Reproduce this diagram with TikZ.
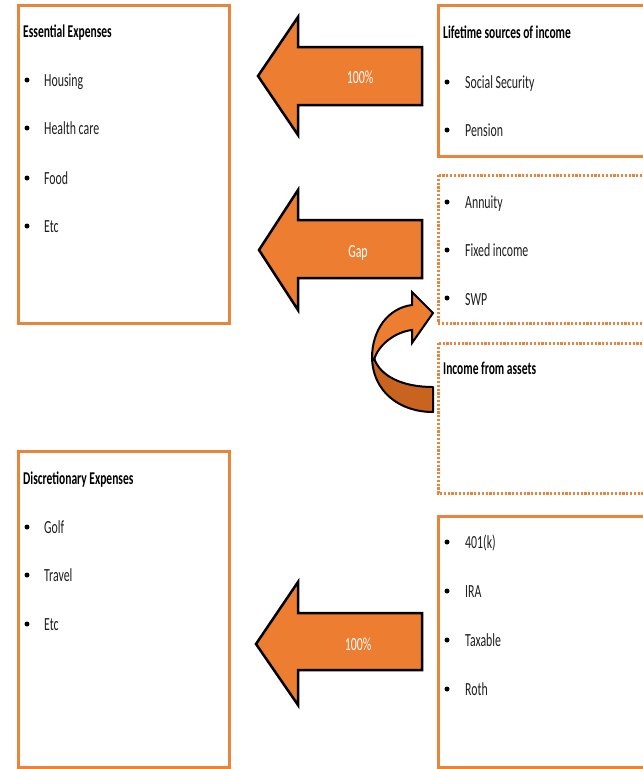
\documentclass[tikz,border=0pt]{standalone}
\usepackage{fontspec}
\setmainfont{Carlito}[FakeStretch=0.64]
\definecolor{orF}{HTML}{ED7D31}
\definecolor{orB}{HTML}{E8853D}
\definecolor{orD}{HTML}{C8641F}
\definecolor{txt}{HTML}{1E1E1E}
\begin{document}
\begin{tikzpicture}[x=1pt,y=-1pt,
 box/.style={draw=orB,line width=3pt},
 dbox/.style={draw=orB,line width=3pt,dash pattern=on 2.2pt off 1.6pt},
 hdr/.style={anchor=base west,inner sep=0pt,font=\fontsize{18}{20}\selectfont\bfseries,text=black},
 itm/.style={anchor=base west,inner sep=0pt,font=\fontsize{18.5}{20}\selectfont,text=txt},
 bul/.style={circle,fill=black,inner sep=0pt,minimum size=5pt},
 bigarrow/.style={fill=orF,draw=black,line width=2.5pt,line join=miter},
 curvearrow/.style={draw=black,line width=2pt,line join=round},
 albl/.style={text=white,inner sep=0pt,font=\fontsize{18.5}{20}\selectfont}]
\useasboundingbox (0,0) rectangle (643,769);
\clip (0,0) rectangle (643,769);

% boxes
\draw[box] (18,5) rectangle (229,323);
\draw[box] (18,451) rectangle (229,767);
\draw[box] (438,5) rectangle (660,156);
\draw[dbox] (438,175) rectangle (660,323);
\draw[dbox] (438,343) rectangle (660,493);
\draw[box] (438,516) rectangle (660,767);

% essential expenses
\node[hdr] (ess) at (23,37) {Essential Expenses};
\node[bul] (b1) at (27,80) {};   \node[itm] (housing) at (44,86) {Housing};
\node[bul] (b2) at (27,128) {};  \node[itm] (health) at (44,134) {Health care};
\node[bul] (b3) at (27,178) {};  \node[itm] (food) at (44,184) {Food};
\node[bul] (b4) at (27,226) {};  \node[itm] (etc1) at (44,232) {Etc};

% discretionary
\node[hdr] (disc) at (23,484) {Discretionary Expenses};
\node[bul] (b5) at (27,527) {};  \node[itm] (golf) at (44,533) {Golf};
\node[bul] (b6) at (27,575) {};  \node[itm] (travel) at (44,581) {Travel};
\node[bul] (b7) at (27,624) {};  \node[itm] (etc2) at (44,630) {Etc};

% lifetime
\node[hdr] (life) at (443,38) {Lifetime sources of income};
\node[bul] (b8) at (447,82) {};  \node[itm] (ss) at (465,88) {Social Security};
\node[bul] (b9) at (447,130) {}; \node[itm] (pension) at (465,136) {Pension};

% annuity box
\node[bul] (b10) at (447,202) {}; \node[itm] (annuity) at (465,208) {Annuity};
\node[bul] (b11) at (447,250) {}; \node[itm] (fixed) at (465,256) {Fixed income};
\node[bul] (b12) at (447,298) {}; \node[itm] (swp) at (465,305) {SWP};

% income from assets
\node[hdr] (assets) at (443,374) {Income from assets};

% accounts
\node[bul] (b13) at (447,542) {}; \node[itm] (k401) at (465,548) {401(k)};
\node[bul] (b14) at (447,591) {}; \node[itm] (ira) at (465,597) {IRA};
\node[bul] (b15) at (447,640) {}; \node[itm] (taxable) at (465,646) {Taxable};
\node[bul] (b16) at (447,689) {}; \node[itm] (roth) at (465,695) {Roth};

% big arrows
\draw[bigarrow] (422,47) -- (298,47) -- (298,17) -- (258,76) -- (298,135) -- (298,105) -- (422,105) -- cycle;
\node[albl] (l1) at (360,77) {100\%};
\draw[bigarrow] (422,220) -- (298,220) -- (298,190) -- (259,250) -- (298,310) -- (298,278) -- (422,278) -- cycle;
\node[albl] (l2) at (358,253) {Gap};
\draw[bigarrow] (422,613) -- (298,613) -- (298,582) -- (256,644) -- (298,705) -- (298,670) -- (422,670) -- cycle;
\node[albl] (l3) at (358,644) {100\%};

% curved arrow
\draw[curvearrow,fill=orD] (372,356) .. controls (372,392) and (400,412) .. (433,412) -- (433,387) .. controls (402,387) and (380,376) .. (374,358) -- cycle;
\draw[curvearrow,fill=orF,line join=miter] (374,360) .. controls (378,345) and (395,332) .. (412,330) -- (412,343) -- (433,313) -- (412,292) -- (412,305) .. controls (388,308) and (372,330) .. (372,358) -- cycle;
\end{tikzpicture}
\end{document}
